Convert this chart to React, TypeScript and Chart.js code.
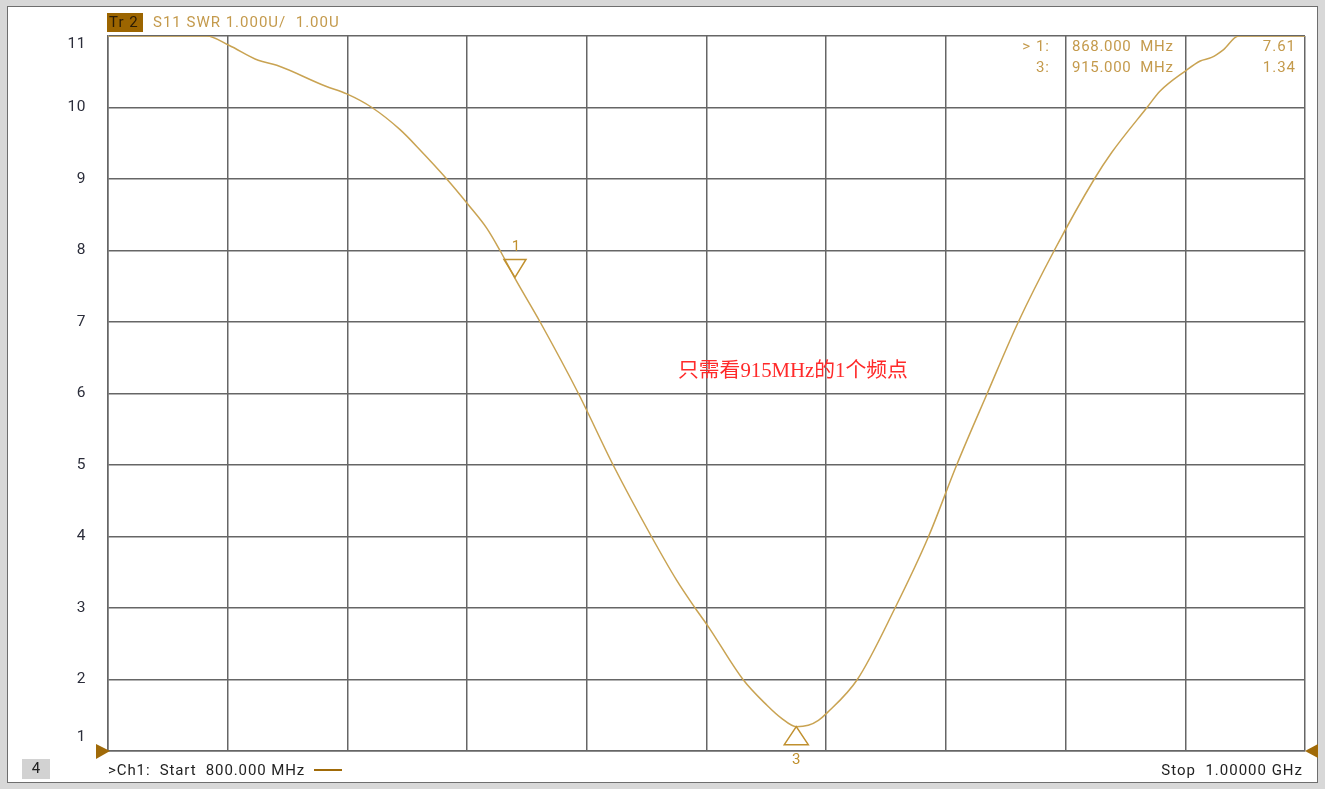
import React, { useEffect, useRef } from "react";
import { Chart, registerables } from "chart.js";

Chart.register(...registerables);

const W = 1325;
const H = 789;

// Frequency (MHz) and SWR values
const freqs = [
  800, 816.5, 820.2, 825.1, 828.2, 836.3, 839.9, 844.1, 848.8, 852.1, 856.6, 860.2,
  863.3, 865.5, 868, 872.2, 878.6, 884.4, 890.8, 895.0, 898.1, 900.3, 906.1, 910.1,
  912.5, 915, 917.0, 918.7, 920.1, 925.2, 931.5, 937.1, 941.8, 946.9, 952.1, 958.1,
  964.8, 967.7, 973.6, 975.8, 980.0, 982.5, 984.4, 986.4, 988.9, 1000,
];
const swr = [
  11, 11, 10.87, 10.66, 10.59, 10.3, 10.19, 10.0, 9.69, 9.41, 9.0, 8.64,
  8.31, 8.0, 7.61, 7.0, 6.0, 5.0, 4.0, 3.39, 3.0, 2.74, 2.0, 1.64,
  1.46, 1.34, 1.36, 1.43, 1.53, 2.0, 3.0, 4.0, 5.0, 6.0, 7.0, 8.0,
  9.0, 9.37, 10.0, 10.23, 10.51, 10.65, 10.7, 10.81, 11, 11,
];

const yTickValues = [1, 2, 3, 4, 5, 6, 7, 8, 9, 10, 11];
const yTickLabels = ["1", "2", "3", "4", "5", "6", "7", "8", "9", "10", "11"];

const markerFreqs = [868, 915];
const markerValues = [7.61, 1.34];
const markerIds = ["1", "3"];
const markerPrefixes = ["> 1:", "3:"];
const markerFreqTexts = ["868.000  MHz", "915.000  MHz"];
const markerValueTexts = ["7.61", "1.34"];

const headerTag = "Tr 2";
const headerText = "S11 SWR 1.000U/  1.00U";
const startText = ">Ch1:  Start  800.000 MHz";
const stopText = "Stop  1.00000 GHz";
const channelBox = "4";
const noteText = "只需看915MHz的1个频点";

const TRACE = "#c9a352";
const GOLD_TEXT = "#c49a4c";
const MARK = "#c0902e";
const DARK_ARROW = "#a06a08";
const GRID = "#666666";
const UI_FONT = "Roboto, 'Noto Sans', sans-serif";

const framePlugin = {
  id: "vnaFrame",
  beforeDraw(chart: any) {
    const ctx = chart.ctx;
    ctx.save();
    ctx.fillStyle = "#d8d8d8";
    ctx.fillRect(0, 0, W, H);
    ctx.fillStyle = "#ffffff";
    ctx.fillRect(7, 6, 1310, 776);
    ctx.strokeStyle = "#6e6e6e";
    ctx.lineWidth = 1;
    ctx.strokeRect(7.5, 6.5, 1310, 776);
    ctx.restore();
  },
  afterDraw(chart: any) {
    const ctx = chart.ctx;
    const xs = chart.scales.x;
    const ys = chart.scales.y;
    const area = chart.chartArea;
    ctx.save();

    // y labels
    ctx.font = `15.5px ${UI_FONT}`;
    ctx.letterSpacing = "0.5px";
    ctx.fillStyle = "#2b2d3a";
    ctx.textAlign = "right";
    ctx.textBaseline = "middle";
    yTickValues.forEach((v, i) => {
      let py = ys.getPixelForValue(v);
      if (v === 11) py += 8;
      if (v === 1) py -= 14;
      ctx.fillText(yTickLabels[i], 86, py);
    });

    ctx.font = `15px ${UI_FONT}`;
    ctx.letterSpacing = "1px";

    // header
    ctx.fillStyle = "#9c6500";
    ctx.fillRect(107, 13, 36, 19);
    ctx.fillStyle = "#2a1c05";
    ctx.textAlign = "left";
    ctx.fillText(headerTag, 109, 23);
    ctx.fillStyle = GOLD_TEXT;
    ctx.fillText(headerText, 153, 23);

    // marker table
    markerPrefixes.forEach((p, i) => {
      const py = 47 + i * 21;
      ctx.letterSpacing = "1px";
      ctx.textAlign = "right";
      ctx.fillStyle = GOLD_TEXT;
      ctx.fillText(p, 1050, py);
      ctx.textAlign = "left";
      ctx.letterSpacing = "0.7px";
      ctx.fillText(markerFreqTexts[i], 1072, py);
      ctx.textAlign = "right";
      ctx.letterSpacing = "1px";
      ctx.fillText(markerValueTexts[i], 1296, py);
    });

    // markers
    ctx.letterSpacing = "0px";
    ctx.strokeStyle = MARK;
    ctx.lineWidth = 1.5;
    markerFreqs.forEach((f, i) => {
      const px = xs.getPixelForValue(f);
      const py = ys.getPixelForValue(markerValues[i]);
      ctx.beginPath();
      ctx.fillStyle = MARK;
      ctx.textAlign = "center";
      if (i === 0) {
        ctx.moveTo(px, py - 1);
        ctx.lineTo(px - 11, py - 19);
        ctx.lineTo(px + 11, py - 19);
        ctx.closePath();
        ctx.stroke();
        ctx.fillText(markerIds[i], px + 1, py - 31);
      } else {
        ctx.moveTo(px, py);
        ctx.lineTo(px - 12, py + 18);
        ctx.lineTo(px + 12, py + 18);
        ctx.closePath();
        ctx.stroke();
        ctx.fillText(markerIds[i], px, area.bottom + 9);
      }
    });

    // edge arrows
    ctx.fillStyle = DARK_ARROW;
    ctx.beginPath();
    ctx.moveTo(area.left + 2, area.bottom);
    ctx.lineTo(area.left - 12, area.bottom - 7);
    ctx.lineTo(area.left - 12, area.bottom + 8);
    ctx.closePath();
    ctx.fill();
    ctx.beginPath();
    ctx.moveTo(area.right, area.bottom);
    ctx.lineTo(area.right + 13, area.bottom - 7);
    ctx.lineTo(area.right + 13, area.bottom + 7);
    ctx.closePath();
    ctx.fill();

    // bottom status
    ctx.fillStyle = "#d2d2d2";
    ctx.fillRect(22, 759, 28, 20);
    ctx.fillStyle = "#222";
    ctx.textAlign = "center";
    ctx.fillText(channelBox, 36, 769);
    ctx.letterSpacing = "0.9px";
    ctx.textAlign = "left";
    ctx.fillText(startText, 108, 771);
    ctx.strokeStyle = DARK_ARROW;
    ctx.lineWidth = 2;
    ctx.beginPath();
    ctx.moveTo(314, 770);
    ctx.lineTo(342, 770);
    ctx.stroke();
    ctx.textAlign = "right";
    ctx.letterSpacing = "1px";
    ctx.fillText(stopText, 1303, 771);

    // red note
    ctx.letterSpacing = "0px";
    ctx.fillStyle = "#ff2a2a";
    ctx.font = `20.8px 'Liberation Serif', 'Noto Sans CJK SC', serif`;
    ctx.textAlign = "left";
    ctx.fillText(noteText, 678, 372);

    ctx.restore();
  },
};

export default function App() {
  const ref = useRef<HTMLCanvasElement | null>(null);

  useEffect(() => {
    if (!ref.current) return;
    const points = freqs.map((f, i) => ({ x: f, y: swr[i] }));
    const chart = new Chart(ref.current, {
      type: "line",
      data: {
        datasets: [
          {
            data: points,
            borderColor: TRACE,
            borderWidth: 1.5,
            pointRadius: 0,
            cubicInterpolationMode: "monotone",
            fill: false,
          },
        ],
      },
      options: {
        responsive: false,
        animation: false,
        layout: { padding: { left: 108, top: 36, right: 20, bottom: 38 } },
        plugins: { legend: { display: false }, tooltip: { enabled: false } },
        scales: {
          x: {
            type: "linear",
            min: 800,
            max: 1000,
            ticks: { display: false, stepSize: 20 },
            grid: { color: GRID, lineWidth: 1.5, drawTicks: false },
            border: { display: true, color: GRID, width: 1.5 },
          },
          y: {
            type: "linear",
            min: 1,
            max: 11,
            ticks: { display: false, stepSize: 1 },
            grid: { color: GRID, lineWidth: 1.5, drawTicks: false },
            border: { display: true, color: GRID, width: 1.5 },
          },
        },
      },
      plugins: [framePlugin],
    });
    return () => chart.destroy();
  }, []);

  return (
    <div style={{ position: "absolute", left: 0, top: 0, width: W, height: H }}>
      <canvas ref={ref} width={W} height={H} style={{ display: "block" }} />
    </div>
  );
}
